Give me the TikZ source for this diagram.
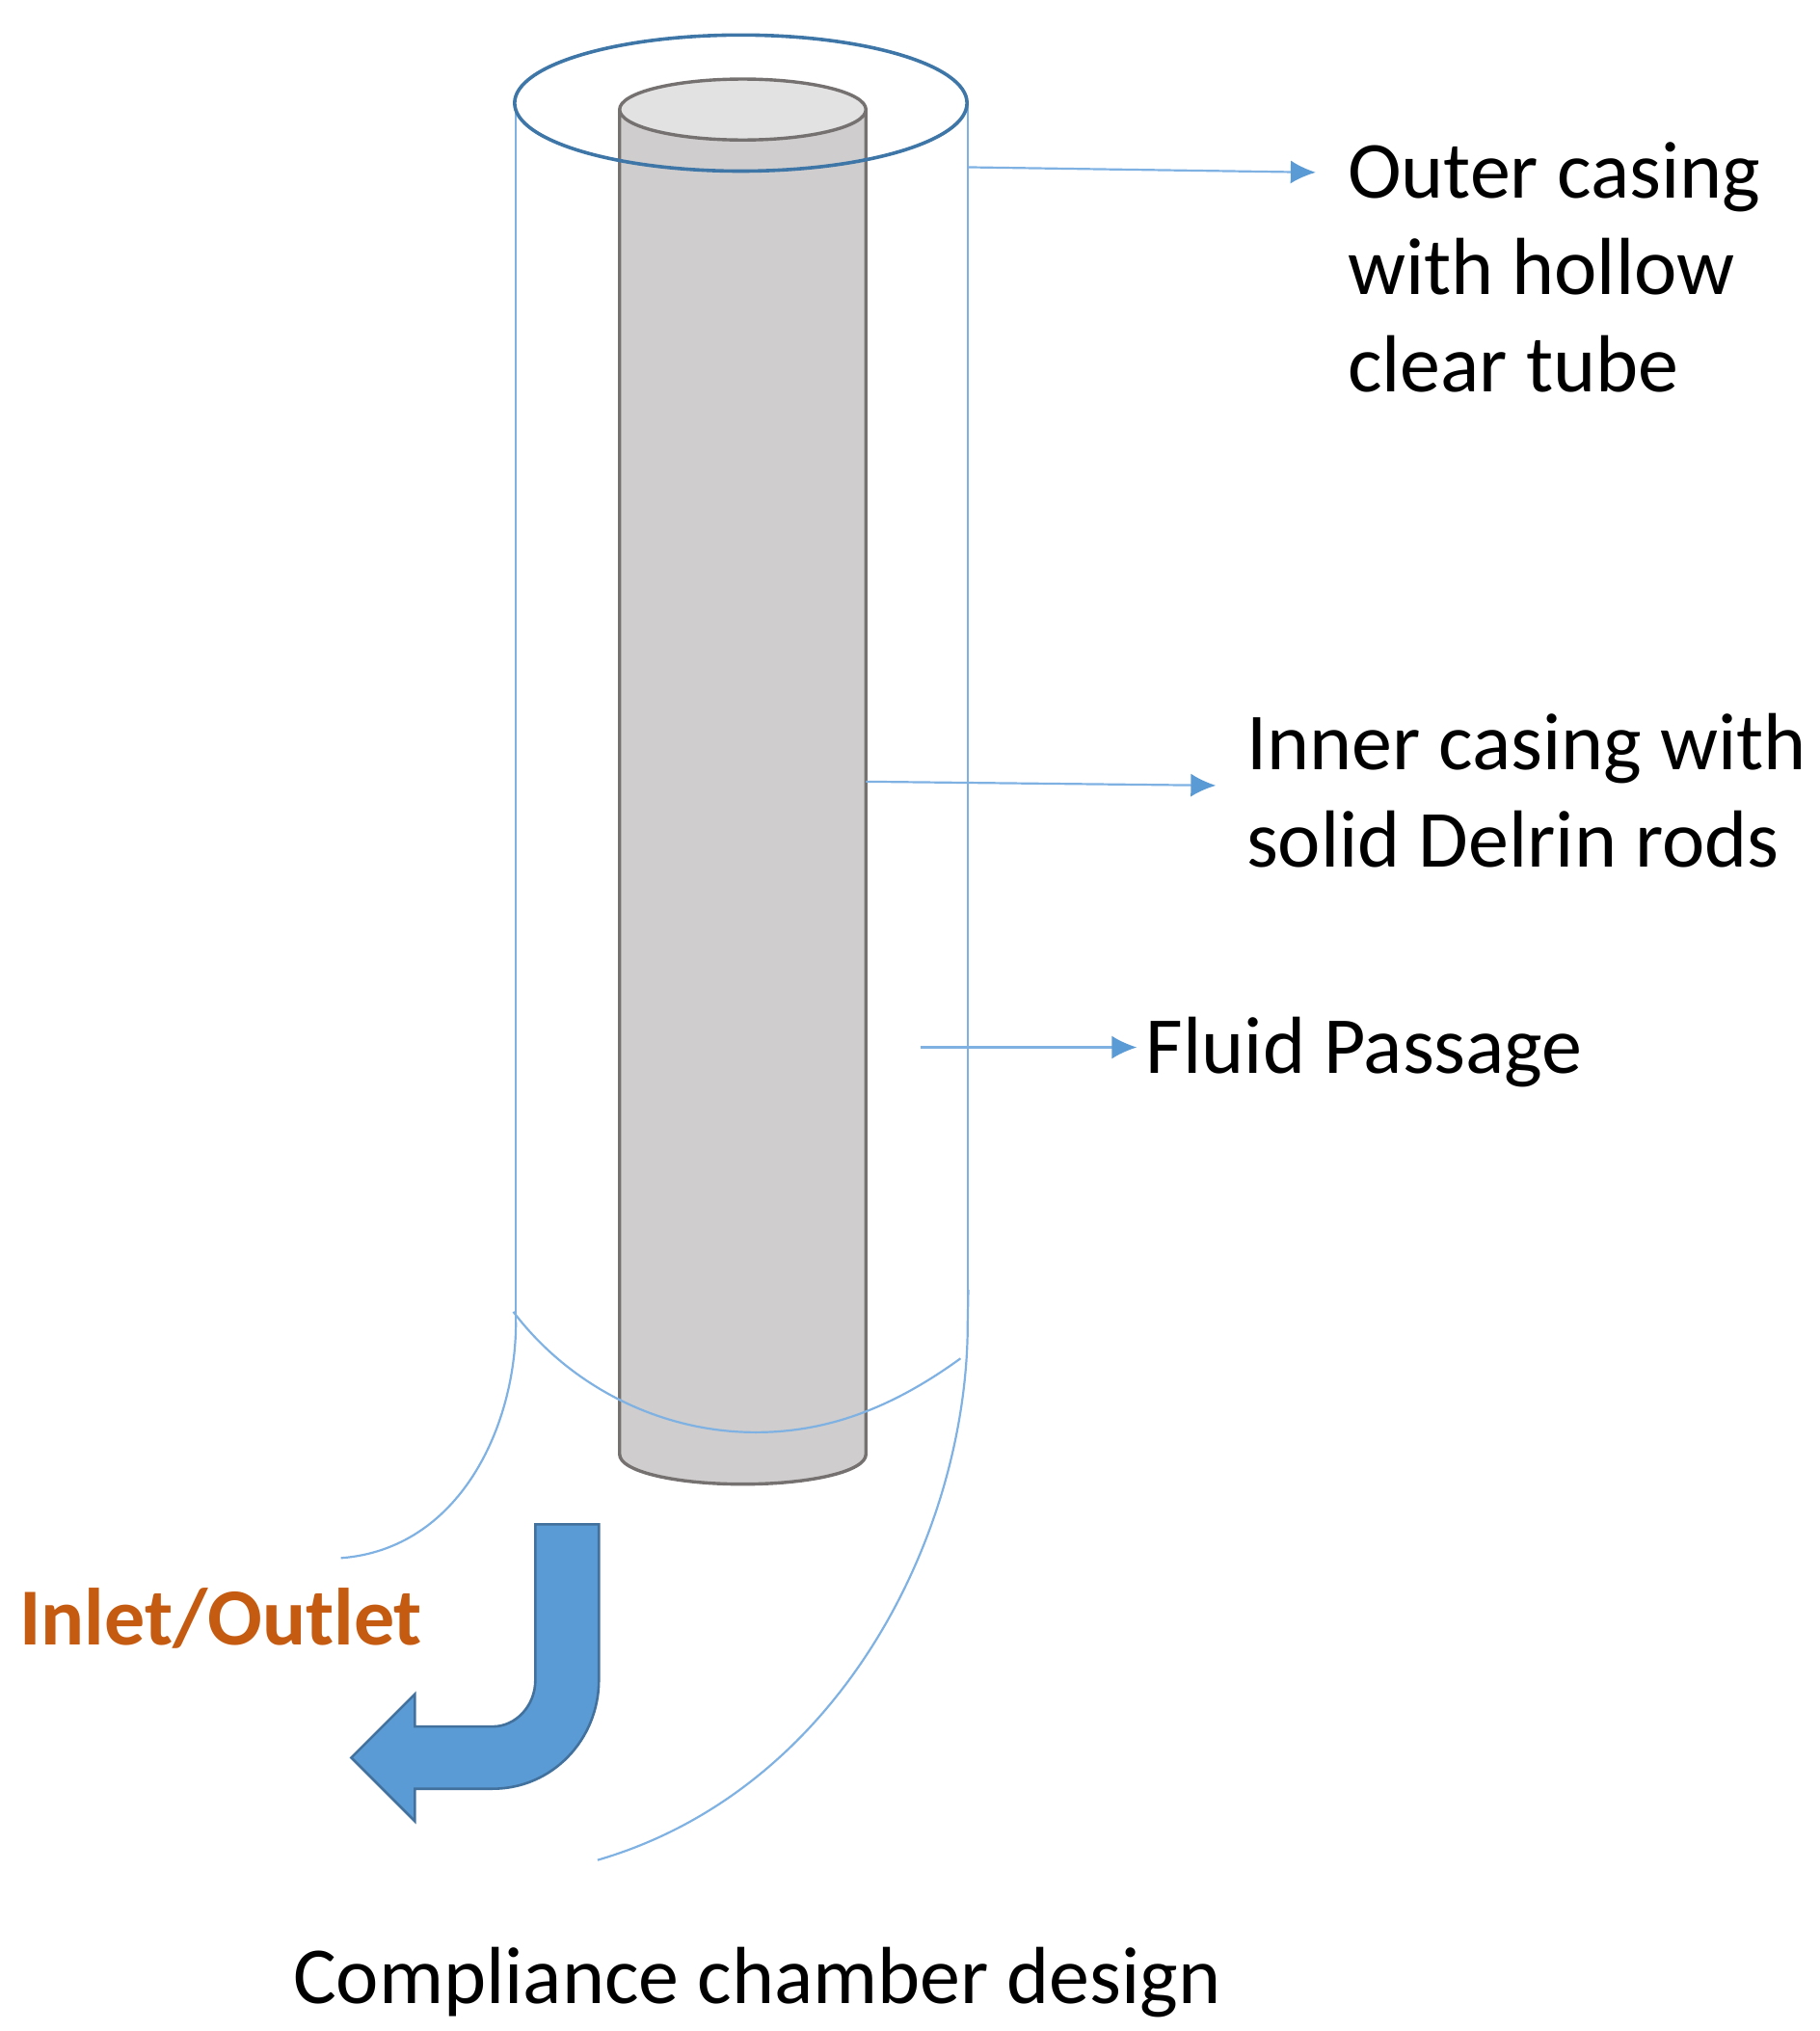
\documentclass[tikz,border=0pt]{standalone}
\usepackage{fontspec}
\setmainfont{Carlito}
\definecolor{cblue}{HTML}{5B9BD5}
\definecolor{cline}{HTML}{7FB2E3}
\definecolor{cdark}{HTML}{41719C}
\definecolor{crim}{HTML}{3F76A8}
\definecolor{cbody}{HTML}{CFCDCD}
\definecolor{ctop}{HTML}{E2E2E2}
\definecolor{cedge}{HTML}{767171}
\definecolor{corange}{HTML}{C55A11}
\usetikzlibrary{arrows.meta}
\tikzset{
  thinblue/.style={draw=cline,line width=2.2pt},
  conn/.style={draw=cline,line width=2.2pt,-{Latex[length=26pt,width=24pt,color=cblue]}},
  lab/.style={inner sep=0pt,anchor=base west,font=\fontsize{84}{100}\selectfont,align=left},
  solidedge/.style={draw=cedge,line width=3.4pt}
}
\begin{document}
\begin{tikzpicture}[x=1.3447pt,y=-1.3447pt]
\useasboundingbox (0,0) rectangle (1404,1566.9);
% inner cylinder
\path[fill=cbody,solidedge] (478,85) -- (478,1122) .. controls (478,1135) and (520,1145) .. (573,1145) .. controls (626,1145) and (668,1135) .. (668,1122) -- (668,85) -- cycle;
\path[fill=ctop,solidedge] (573,84.5) ellipse [x radius=95,y radius=23.5];
% outer casing
\coordinate (oLT) at (398,80);
\coordinate (oLB) at (398,1020);
\coordinate (oRT) at (746.5,80);
\coordinate (oRB) at (746.5,1020);
\draw[thinblue] (oLT) -- (oLB);
\draw[thinblue] (oRT) -- (oRB);
\draw[thinblue] (oLB) .. controls (398,1100) and (355,1195) .. (263,1202);
\draw[thinblue] (747,995) -- (oRB) .. controls (747,1180) and (650,1380) .. (461,1435);
\draw[thinblue] (396,1012) .. controls (440,1070) and (510,1105) .. (583,1105) .. controls (640,1105) and (690,1085) .. (741,1048);
\draw[draw=crim,line width=3.6pt] (571.5,79.5) ellipse [x radius=174.5,y radius=52.5];
% arrow
\path[fill=cblue,draw=cdark,line width=2.6pt,line join=miter] (413,1176) -- (462,1176) -- (462,1296) .. controls (462,1342) and (426,1380) .. (380,1380) -- (320,1380) -- (320,1405) -- (271,1356) -- (320,1307) -- (320,1332) -- (380,1332) .. controls (398,1332) and (413,1316) .. (413,1296) -- cycle;
% connectors
\coordinate (a1) at (747,129);
\coordinate (a2) at (1015,133);
\coordinate (b1) at (668,603);
\coordinate (b2) at (938,606);
\coordinate (c1) at (710,808);
\coordinate (c2) at (877,808);
\draw[conn] (a1) -- (a2);
\draw[conn] (b1) -- (b2);
\draw[conn] (c1) -- (c2);
% labels
\node[lab] (t1a) at (1039.5,153) {Outer casing};
\node[lab] (t1b) at (1039.5,227) {with hollow};
\node[lab] (t1c) at (1039.5,302) {clear tube};
\node[lab] (t2a) at (961.5,594) {Inner casing with};
\node[lab] (t2b) at (961.5,669) {solid Delrin rods};
\node[lab] (t3) at (884,828) {Fluid Passage};
\node[lab,text=corange,font=\fontsize{84}{100}\selectfont\bfseries] (t4) at (15,1269) {Inlet/Outlet};
\node[lab] (t5) at (226,1545.5) {Compliance chamber design};
\end{tikzpicture}
\end{document}
